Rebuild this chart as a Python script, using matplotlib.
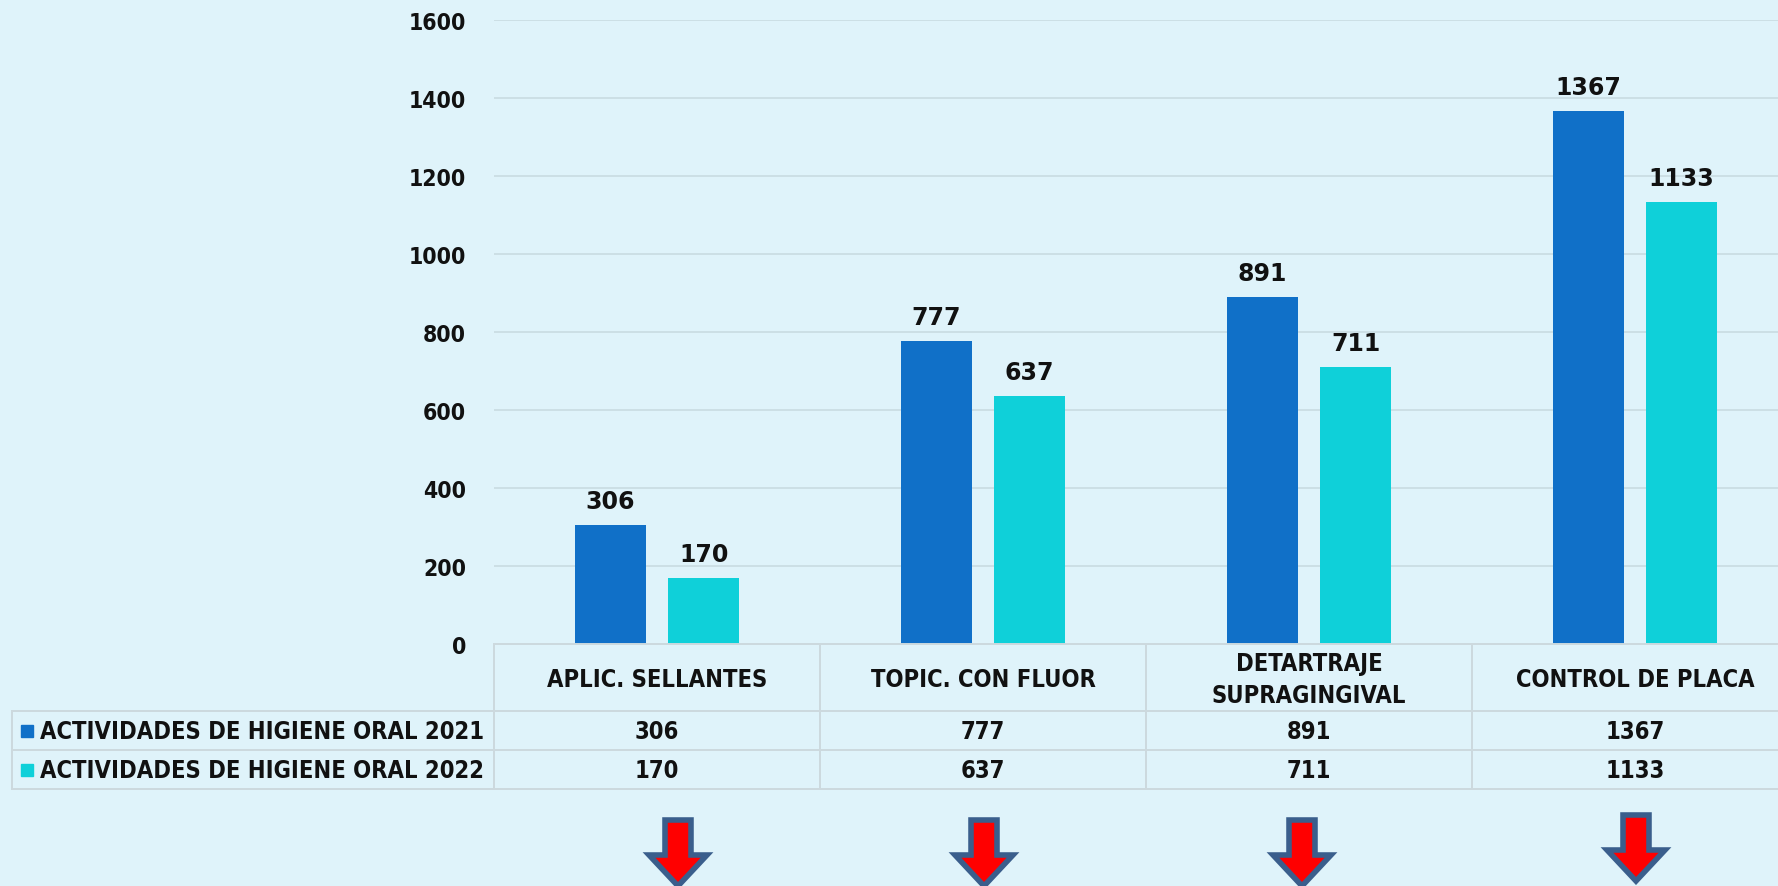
import matplotlib
matplotlib.use('Agg')
import matplotlib.pyplot as plt
from matplotlib.patches import Polygon, Rectangle
from matplotlib.lines import Line2D
import numpy as np

categories = ["APLIC. SELLANTES", "TOPIC. CON FLUOR", "DETARTRAJE\nSUPRAGINGIVAL", "CONTROL DE PLACA"]
series_names = ["ACTIVIDADES DE HIGIENE ORAL 2021", "ACTIVIDADES DE HIGIENE ORAL 2022"]
values_2021 = [306, 777, 891, 1367]
values_2022 = [170, 637, 711, 1133]
yticks = [0, 200, 400, 600, 800, 1000, 1200, 1400, 1600]

W, H = 1778, 887
bg = "#DFF3FA"
blue = "#1070C8"
cyan = "#0FD0D9"
gridc = "#CBDDE3"
tablec = "#CCD9DE"
font = dict(family="DejaVu Sans", fontstretch="condensed", fontweight="bold", color="#111111")
numfont = dict(family="DejaVu Sans", fontweight="bold", color="#111111")

def fx(px):
    return px / W

def fy(py):
    return 1 - py / H

fig = plt.figure(figsize=(W / 100, H / 100), dpi=100)
fig.patch.set_facecolor(bg)

# main plot, category width 326 px, right side cropped by figure edge
ax = fig.add_axes([fx(494), fy(645), 1304 / W, 624 / H])
ax.set_facecolor(bg)
x = np.arange(len(categories))
ax.bar(x - 0.143, values_2021, 0.22, color=blue, zorder=3)
ax.bar(x + 0.143, values_2022, 0.22, color=cyan, zorder=3)
ax.set_xlim(-0.5, 3.5)
ax.set_ylim(0, 1600)
ax.set_yticks(yticks)
ax.set_yticklabels([str(t) for t in yticks], **font, fontsize=16.5)
ax.set_xticks([])
ax.tick_params(axis="y", length=0, pad=20)
ax.grid(axis="y", color=gridc, linewidth=1.3, zorder=0)
for s in ax.spines.values():
    s.set_visible(False)

for xi, v in zip(x - 0.143, values_2021):
    ax.annotate(str(v), (xi, v), xytext=(0, 12), textcoords="offset points",
                ha="center", va="baseline", fontsize=17, **numfont)
for xi, v in zip(x + 0.143, values_2022):
    ax.annotate(str(v), (xi, v), xytext=(0, 12), textcoords="offset points",
                ha="center", va="baseline", fontsize=17, **numfont)

# data table below the axis
col_edges = [494 + 326 * i for i in range(5)]
lines = [
    ((494, W), (645, 645)),
    ((12, W), (712, 712)),
    ((12, W), (751, 751)),
    ((12, W), (790, 790)),
    ((12, 12), (712, 790)),
]
for ce in col_edges[:4]:
    lines.append(((ce, ce), (645, 790)))
for (xa, xb), (ya, yb) in lines:
    fig.add_artist(Line2D([fx(xa), fx(xb)], [fy(ya), fy(yb)], color=tablec, linewidth=1.4))

for i, cat in enumerate(categories):
    cx = col_edges[i] + 163
    fig.text(fx(cx), fy(680), cat, ha="center", va="center", fontsize=17,
             linespacing=1.45, **font)
    fig.text(fx(cx), fy(732), str(values_2021[i]), ha="center", va="center", fontsize=17, **font)
    fig.text(fx(cx), fy(771), str(values_2022[i]), ha="center", va="center", fontsize=17, **font)

for name, c, cy in [(series_names[0], blue, 732), (series_names[1], cyan, 771)]:
    fig.add_artist(Rectangle((fx(21), fy(cy + 6)), 12 / W, 12 / H, color=c))
    fig.text(fx(40), fy(cy), name, ha="left", va="center", fontsize=17, **font)

# red down arrows under each category
arrow_x = [678, 984, 1302, 1636]
arrow_top = [821, 821, 821, 816]
for ax_px, top in zip(arrow_x, arrow_top):
    shaft = 13
    head = 29
    neck = top + 35
    tip = top + 66
    pts = [(ax_px - shaft, top), (ax_px + shaft, top), (ax_px + shaft, neck),
           (ax_px + head, neck), (ax_px, tip), (ax_px - head, neck), (ax_px - shaft, neck)]
    fig.add_artist(Polygon([(fx(px), fy(py)) for px, py in pts], closed=True,
                           facecolor="#FF0000", edgecolor="#3A5E8C", linewidth=4,
                           joinstyle="miter"))

fig.savefig("out.png", dpi=100, facecolor=bg)
